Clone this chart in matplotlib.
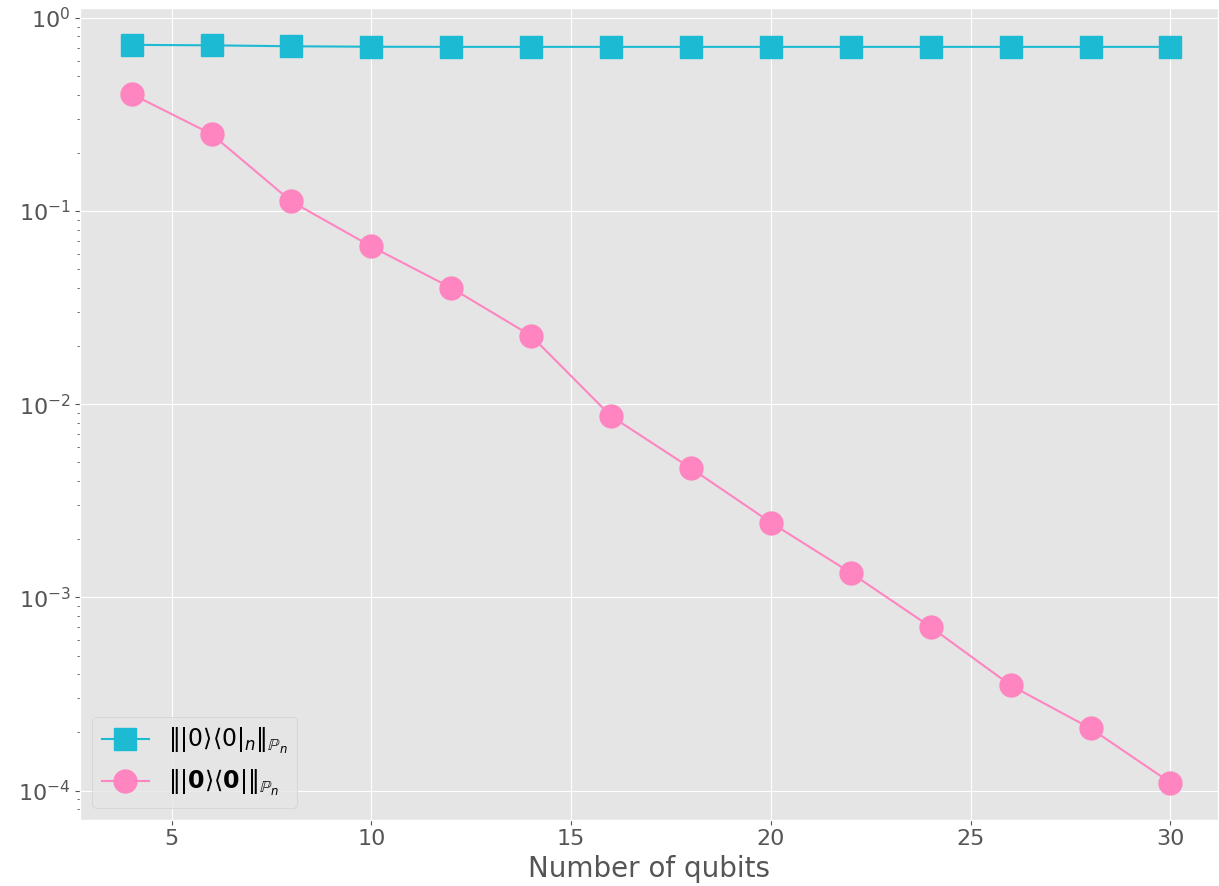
import matplotlib
matplotlib.use('Agg')
import matplotlib.pyplot as plt

#------------------------------------------------------------------------------
# Data
qubits = [4, 6, 8, 10, 12, 14, 16, 18, 20, 22, 24, 26, 28, 30]
norm_n = [0.724, 0.72, 0.712, 0.708, 0.707, 0.707, 0.707, 0.707, 0.707,
          0.707, 0.707, 0.707, 0.707, 0.707]
norm_bold = [0.403, 0.25, 0.112, 0.0655, 0.040, 0.0226, 0.00867, 0.00466,
             0.00244, 0.00134, 0.000703, 0.000351, 0.00021, 0.00011]

label_n = r'$\| |0\rangle\langle 0|_n \|_{\mathbb{P}_n}$'
label_bold = r'$\| |\mathbf{0}\rangle\langle \mathbf{0}| \|_{\mathbb{P}_n}$'

#------------------------------------------------------------------------------
plt.style.use('ggplot')
fig, ax = plt.subplots(figsize=(12.19, 8.86), dpi=100)
fig.subplots_adjust(left=0.066, right=0.9995, top=0.991, bottom=0.075)

ax.plot(qubits, norm_n, marker='s', markersize=16, color='#1dbad3',
        linewidth=1.5, label=label_n)
ax.plot(qubits, norm_bold, marker='o', markersize=16.5, color='#ff85c0',
        linewidth=1.5, label=label_bold)

ax.set_yscale('log')
ax.set_xlim(2.72, 31.2)
ax.set_xlabel('Number of qubits', fontsize=20)
ax.tick_params(axis='both', labelsize=16)
ax.legend(loc='lower left', fontsize=17)

plt.savefig('out.png', dpi=100)
plt.close()
